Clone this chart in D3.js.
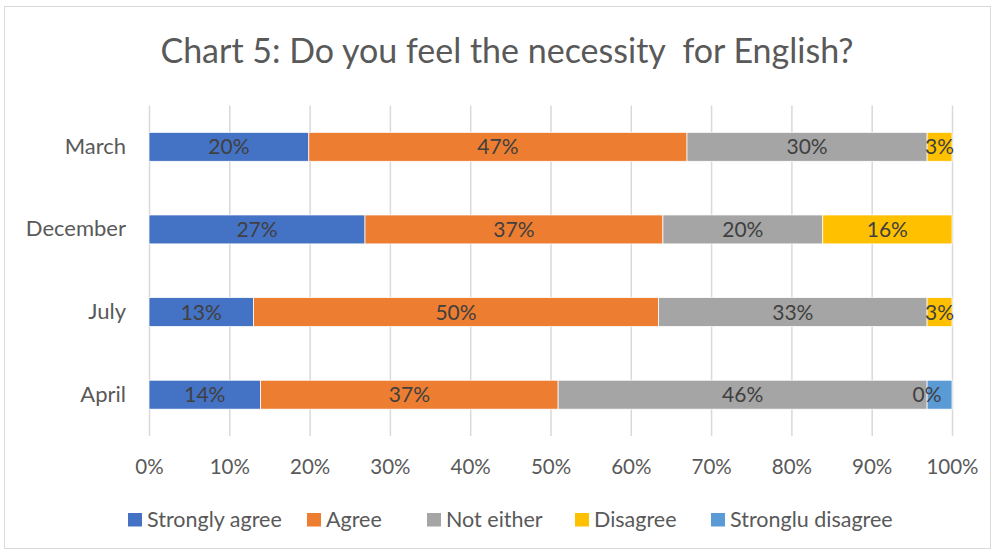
<!DOCTYPE html>
<html>
<head>
<meta charset="utf-8">
<script src="https://cdn.jsdelivr.net/npm/d3@7"></script>
<style>
  body { margin: 0; background: #fff; }
  text { font-family: Lato, "Open Sans", sans-serif; }
</style>
</head>
<body>
<div id="chart"></div>
<script>
// data (top to bottom)
let months = ["March", "December", "July", "April"];
let seriesNames = ["Strongly agree", "Agree", "Not either", "Disagree", "Stronglu disagree"];
let stronglyAgree = [19.9, 26.9, 13, 13.9];
let agree = [47.1, 37.1, 50.4, 37.05];
let notEither = [29.9, 19.9, 33.4, 45.95];
let disagree = [3.1, 16.1, 3.1, 0];
let strongluDisagree = [0, 0, 0, 3.1];
let ticks = [0, 10, 20, 30, 40, 50, 60, 70, 80, 90, 100];
let colors = ["#4472C4", "#ED7D31", "#A5A5A5", "#FFC000", "#5B9BD5"];

let rows = months.map((m, i) => ({
    month: m,
    "Strongly agree": stronglyAgree[i],
    "Agree": agree[i],
    "Not either": notEither[i],
    "Disagree": disagree[i],
    "Stronglu disagree": strongluDisagree[i]
}));

let W = 995, H = 553;
let margin = {top: 105.5, right: 43, bottom: 117, left: 149}
    , width = W - margin.left - margin.right
    , height = H - margin.top - margin.bottom;

let svg = d3.select("#chart").append("svg")
    .attr("width", W)
    .attr("height", H);

// frame
svg.append("rect")
    .attr("x", 4.5).attr("y", 6.5)
    .attr("width", 986).attr("height", 542)
    .attr("fill", "#fff")
    .attr("stroke", "#d9d9d9");

svg.append("text")
    .attr("x", 507).attr("y", 63)
    .attr("text-anchor", "middle")
    .style("font-size", "34px")
    .style("fill", "#595959")
    .attr("xml:space", "preserve")
    .text("Chart 5: Do you feel the necessity  for English?");

let g = svg.append("g")
    .attr("transform", "translate(" + margin.left + "," + margin.top + ")");

let x = d3.scaleLinear().domain([0, 1]).range([0, width]);
let y = d3.scaleBand().domain(months).range([0, height])
    .paddingInner(0.65).paddingOuter(0.325);
let color = d3.scaleOrdinal().domain(seriesNames).range(colors);

// gridlines
g.selectAll(".grid")
    .data(ticks)
    .enter().append("line")
    .attr("x1", d => x(d / 100) + 0.5)
    .attr("x2", d => x(d / 100) + 0.5)
    .attr("y1", 0)
    .attr("y2", height)
    .attr("stroke", "#d9d9d9")
    .attr("stroke-width", 1.5);

let stack = d3.stack().keys(seriesNames).offset(d3.stackOffsetExpand);
let layers = stack(rows);

let layer = g.selectAll(".layer")
    .data(layers)
    .enter().append("g")
    .attr("fill", d => color(d.key));

layer.selectAll("rect")
    .data(d => d)
    .enter().append("rect")
    .attr("x", d => x(d[0]))
    .attr("y", d => y(d.data.month))
    .attr("width", d => x(d[1]) - x(d[0]))
    .attr("height", y.bandwidth())
    .attr("stroke", "#fff")
    .attr("stroke-width", 0.75);

// data labels on the first four series
let fmt = d => Math.round(d) + "%";
layers.slice(0, 4).forEach(function (l) {
    g.selectAll(".lbl-" + l.index)
        .data(l)
        .enter().append("text")
        .attr("x", d => (x(d[0]) + x(d[1])) / 2)
        .attr("y", d => y(d.data.month) + y.bandwidth() / 2)
        .attr("dy", "0.36em")
        .attr("text-anchor", "middle")
        .style("font-size", "21px")
        .style("fill", "#404040")
        .text(d => fmt(d.data[l.key]));
});

// x axis labels
let xAxis = g.append("g")
    .attr("transform", "translate(0," + height + ")")
    .call(d3.axisBottom(x).tickValues(ticks.map(t => t / 100)).tickFormat(d3.format(".0%")).tickSize(0).tickPadding(23));
xAxis.select(".domain").remove();
xAxis.selectAll("text")
    .style("font-size", "20.5px")
    .style("font-family", "Lato, sans-serif")
    .style("fill", "#595959");

// y axis labels
let yAxis = g.append("g")
    .call(d3.axisLeft(y).tickSize(0).tickPadding(23));
yAxis.select(".domain").remove();
yAxis.selectAll("text")
    .style("font-size", "22px")
    .style("font-family", "Lato, sans-serif")
    .style("fill", "#595959");

// legend
let legendX = [128, 307, 427, 575, 711];
let legend = svg.selectAll(".legend")
    .data(seriesNames)
    .enter().append("g")
    .attr("transform", (d, i) => "translate(" + legendX[i] + ",513)");
legend.append("rect")
    .attr("width", 14).attr("height", 13.5)
    .attr("fill", d => color(d));
legend.append("text")
    .attr("x", 19).attr("y", 13.7)
    .style("font-size", "21.5px")
    .style("fill", "#595959")
    .text(d => d);
</script>
</body>
</html>
